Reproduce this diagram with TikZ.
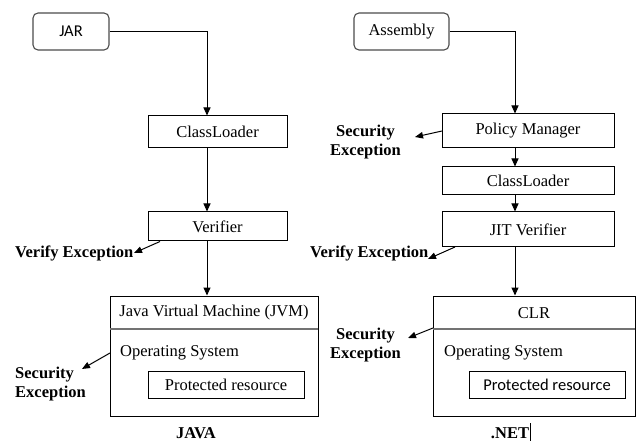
\documentclass[tikz,border=0pt]{standalone}
\usepackage{fontspec}
\setmainfont{Liberation Serif}
\newfontfamily\carlito{Carlito}
\usetikzlibrary{arrows.meta}
\begin{document}
\begin{tikzpicture}[x=1pt,y=-1pt,
  txt/.style={font=\fontsize{16.5}{19}\selectfont, inner sep=0pt},
  bx/.style={draw=black, line width=1pt, inner sep=0pt, font=\fontsize{16.5}{19}\selectfont},
  src/.style={draw=black!70, line width=1.1pt, rounded corners=5pt, inner sep=0pt, font=\fontsize{16.5}{19}\selectfont},
  exc/.style={font=\fontsize{16.5}{19}\selectfont\bfseries, inner sep=0pt},
  flow/.style={line width=1pt, -{Triangle[length=8pt,width=7pt]}},
  side/.style={line width=1pt, -{Triangle[length=8pt,width=6.5pt]}}
]
\useasboundingbox (0,0) rectangle (638,441);

% column lines of the vertical flows
\coordinate (lx) at (207,0);
\coordinate (rx) at (515,0);

% ---------------- JAVA column ----------------
\node[src, minimum width=76pt, minimum height=37pt] (jar) at (71,31.5) {\carlito JAR};
\node[bx, minimum width=139pt, minimum height=32pt] (cl1) at (217.5,132) {ClassLoader};
\node[bx, minimum width=139pt, minimum height=29pt] (ver) at (217.5,226.5) {Verifier};
\node[bx, minimum width=208pt, minimum height=120pt] (jvm) at (214,356) {};
\draw[black!55, line width=1.2pt] (110,329) -- (318,329);
\node[txt] (jvmt) at (214,313) {Java Virtual Machine (JVM)};
\node[txt, anchor=west] (os1) at (120,353) {Operating System};
\node[bx, minimum width=156pt, minimum height=27pt] (pr1) at (226,384.5) {Protected resource};

\node[exc, anchor=west] (ve1) at (15,253) {Verify Exception};
\node[exc, anchor=west, align=left] (se1) at (15,384) {Security\\Exception};
\node[exc] (java) at (196,433) {JAVA};

\draw[flow] (jar.east) -| (lx |- cl1.north);
\draw[flow] (lx |- cl1.south) -- (lx |- ver.north);
\draw[flow] (lx |- ver.south) -- (lx |- jvm.north);

\coordinate (ve1s) at (160,241.5);
\coordinate (ve1t) at (134,253);
\draw[side] (ve1s) -- (ve1t);
\coordinate (se1s) at (110,353);
\coordinate (se1t) at (82,369);
\draw[side] (se1s) -- (se1t);

% ---------------- .NET column ----------------
\node[src, minimum width=95pt, minimum height=37pt] (asm) at (401.5,31.5) {Assembly};
\node[bx, minimum width=172pt, minimum height=34pt] (pm) at (528,131) {Policy Manager};
\node[bx, minimum width=172pt, minimum height=28pt] (cl2) at (528,181) {ClassLoader};
\node[bx, minimum width=172pt, minimum height=35pt] (jit) at (528,229.5) {JIT Verifier};
\node[bx, minimum width=202pt, minimum height=120pt] (clr) at (534,356) {};
\draw[black!55, line width=1.2pt] (433,329) -- (635,329);
\node[txt] (clrt) at (534,313) {CLR};
\node[txt, anchor=west] (os2) at (444,353) {Operating System};
\node[bx, minimum width=156pt, minimum height=27pt] (pr2) at (547,384.5) {\carlito Protected resource};

\node[exc, align=center] (se2) at (365.5,142.5) {Security\\Exception};
\node[exc, anchor=west] (ve2) at (310,253) {Verify Exception};
\node[exc, align=center] (se3) at (365.5,345) {Security\\Exception};
\node[exc] (net) at (510,433) {.NET};
\draw[line width=1.2pt] (530.5,423) -- (530.5,441);

\draw[flow] (asm.east) -| (rx |- pm.north);
\draw[flow] (rx |- pm.south) -- (rx |- cl2.north);
\draw[flow] (rx |- cl2.south) -- (rx |- jit.north);
\draw[flow] (rx |- jit.south) -- (rx |- clr.north);

\coordinate (se2s) at (442,131);
\coordinate (se2t) at (415,137);
\draw[side] (se2s) -- (se2t);
\coordinate (ve2s) at (455,247);
\coordinate (ve2t) at (428,259);
\draw[side] (ve2s) -- (ve2t);
\coordinate (se3s) at (433,328);
\coordinate (se3t) at (408,338);
\draw[side] (se3s) -- (se3t);
\end{tikzpicture}
\end{document}
